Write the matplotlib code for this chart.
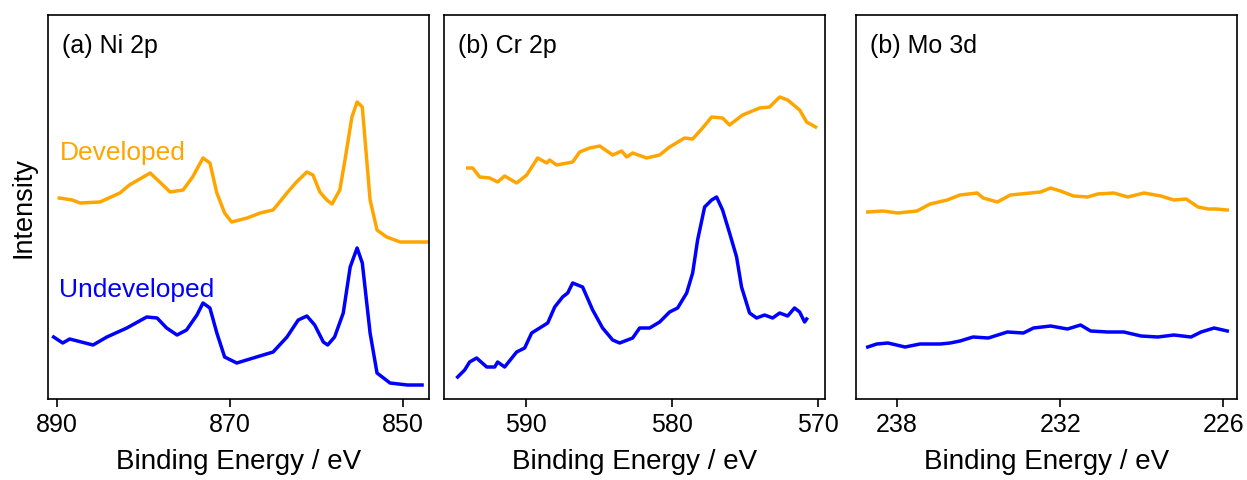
import matplotlib.pyplot as plt

plt.rcParams['font.family'] = ['Liberation Sans', 'DejaVu Sans']

# Ni 2p
ni_be_dev = [889.7, 888.2, 887.3, 885.0, 882.7, 881.6, 879.2, 878.1, 876.9, 875.4,
             874.3, 873.1, 872.3, 871.5, 870.6, 869.8, 868.0, 866.5, 865.0, 863.4,
             862.3, 861.1, 860.4, 859.6, 858.8, 858.2, 857.3, 856.7, 855.9, 855.3,
             854.7, 853.8, 853.0, 851.9, 850.3, 847.2]
ni_dev = [201, 199, 196, 197, 206, 214, 226, 217, 207, 209,
          222, 241, 236, 206, 186, 177, 181, 186, 189, 206,
          217, 227, 224, 207, 199, 195, 209, 239, 282, 297,
          292, 199, 169, 162, 157, 157]
ni_be_und = [890.35, 889.3, 888.5, 885.8, 884.2, 881.9, 879.6, 878.4, 877.3, 876.1,
             875.0, 873.8, 873.1, 872.3, 871.5, 870.6, 869.2, 867.3, 865.0, 863.4,
             862.1, 861.1, 860.2, 859.2, 858.7, 857.9, 856.9, 856.1, 855.3, 854.7,
             853.8, 853.0, 851.5, 849.5, 847.8]
ni_und = [62, 56, 60, 54, 62, 71, 82, 81, 71, 64,
          69, 84, 96, 91, 66, 42, 36, 41, 47, 62,
          79, 83, 74, 57, 54, 62, 86, 132, 151, 136,
          66, 26, 16, 14, 14]

# Cr 2p
cr_be_dev = [593.97, 593.63, 593.15, 592.47, 591.92, 591.44, 590.62, 589.93, 589.18, 588.56,
             588.36, 587.88, 586.78, 586.30, 585.62, 584.93, 584.04, 583.42, 583.08, 582.67,
             581.71, 580.82, 580.14, 579.11, 578.56, 577.88, 577.26, 576.51, 576.03, 575.14,
             573.97, 573.29, 572.60, 572.05, 571.23, 570.75, 570.14]
cr_dev = [231, 231, 222, 221, 217, 223, 216, 224, 241, 236,
          239, 234, 237, 247, 251, 253, 244, 248, 242, 246,
          241, 244, 252, 261, 260, 271, 282, 281, 274, 284,
          291, 292, 302, 299, 289, 277, 272]
cr_be_und = [594.66, 594.18, 593.84, 593.36, 592.67, 592.12, 591.92, 591.44, 590.62, 590.07,
             589.59, 589.04, 588.49, 588.01, 587.47, 587.12, 586.78, 586.10, 585.41, 584.73,
             584.04, 583.56, 582.67, 582.19, 581.51, 580.82, 580.14, 579.59, 578.97, 578.56,
             578.22, 577.74, 577.26, 576.92, 576.51, 576.03, 575.55, 575.21, 574.66, 574.18,
             573.63, 573.08, 572.60, 572.05, 571.58, 571.23, 570.89, 570.75]
cr_und = [22, 29, 37, 41, 32, 32, 37, 32, 47, 51,
          66, 71, 76, 92, 102, 106, 116, 112, 89, 71,
          59, 56, 61, 71, 71, 77, 87, 91, 106, 126,
          159, 192, 199, 202, 189, 166, 142, 112, 86, 81,
          84, 81, 86, 83, 91, 87, 77, 80]

# Mo 3d
mo_be_dev = [239.07, 238.52, 237.96, 237.26, 236.78, 236.15, 235.68, 235.05, 234.83, 234.31,
             233.83, 233.09, 232.72, 232.35, 231.99, 231.51, 230.99, 230.62, 230.03, 229.51,
             228.92, 228.30, 227.82, 227.37, 226.93, 226.56, 226.27, 225.86]
mo_dev = [187, 188, 186, 188, 195, 199, 204, 206, 201, 197,
          204, 206, 207, 211, 208, 203, 202, 205, 206, 202,
          206, 203, 199, 200, 192, 190, 190, 189]
mo_be_und = [239.07, 238.74, 238.33, 237.70, 237.15, 236.41, 236.04, 235.68, 235.20, 234.64,
             233.94, 233.35, 232.98, 232.35, 231.73, 231.25, 230.88, 230.25, 229.66, 229.03,
             228.41, 227.82, 227.19, 226.82, 226.34, 225.86]
mo_und = [52, 55, 56, 52, 55, 55, 56, 58, 62, 61,
          67, 66, 71, 73, 70, 74, 68, 67, 67, 63,
          62, 64, 62, 67, 71, 68]

panels = [
    ('(a) Ni 2p', ni_be_dev, ni_dev, ni_be_und, ni_und, (891.0, 847.0), [890, 870, 850]),
    ('(b) Cr 2p', cr_be_dev, cr_dev, cr_be_und, cr_und, (595.6, 569.5), [590, 580, 570]),
    ('(b) Mo 3d', mo_be_dev, mo_dev, mo_be_und, mo_und, (239.5, 225.5), [238, 232, 226]),
]

fig = plt.figure(figsize=(12.47, 4.8), dpi=100)
lefts = [0.0385, 0.356, 0.6865]

for i, (title, xd, yd, xu, yu, xlim, ticks) in enumerate(panels):
    ax = fig.add_axes([lefts[i], 0.16875, 0.3055, 0.8])
    ax.plot(xd, yd, color='orange', lw=2.5)
    ax.plot(xu, yu, color='blue', lw=2.5)
    ax.set_xlim(*xlim)
    ax.set_ylim(0, 384)
    ax.set_xticks(ticks)
    ax.set_yticks([])
    ax.tick_params(axis='x', direction='out', length=6, width=1.2, labelsize=18, pad=4)
    for s in ax.spines.values():
        s.set_linewidth(1.2)
    ax.set_xlabel('Binding Energy / eV', fontsize=20, labelpad=9)
    ax.text(0.037, 0.92, title, transform=ax.transAxes, fontsize=18, va='center')
    if i == 0:
        ax.set_ylabel('Intensity', fontsize=19.5, labelpad=8)
        ax.text(0.03, 0.64, 'Developed', transform=ax.transAxes, fontsize=19,
                color='orange', va='center')
        ax.text(0.03, 0.284, 'Undeveloped', transform=ax.transAxes, fontsize=19,
                color='blue', va='center')

fig.savefig('out.png', dpi=100)
